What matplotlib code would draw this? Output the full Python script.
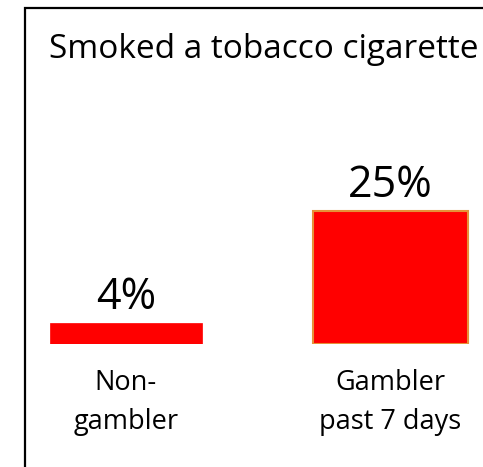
import matplotlib
matplotlib.use("Agg")
import matplotlib.pyplot as plt
from matplotlib.patches import Rectangle

# data
categories = ["Non-\ngambler", "Gambler\npast 7 days"]
values = [4, 25]
value_labels = ["4%", "25%"]
title = "Smoked a tobacco cigarette"

W, H = 483, 467
fig = plt.figure(figsize=(W / 100, H / 100), dpi=100)
plt.rcParams['font.family'] = ['Open Sans', 'DejaVu Sans']

# axes placed so that bar baseline sits at y=344px from top
ax = fig.add_axes([20.2 / W, 123 / H, 476 / W, 213 / H])
ax.set_xlim(-0.4, 1.4)
ax.set_ylim(0, 40)
ax.axis('off')

x = [0, 1]
ax.bar(x[0], values[0], width=0.575, color='#ff0000', edgecolor='#ff0000', linewidth=0.5)
ax.bar(x[1], values[1], width=0.586, color='#ff0000', edgecolor='#e69138', linewidth=1.5)

for xi, v, lab in zip(x, values, value_labels):
    ax.annotate(lab, xy=(xi, v), xytext=(0, 10), textcoords='offset points',
                ha='center', va='baseline', fontsize=31, color='black')

# multi-line baseline alignment refers to the last line
for xi, cat in zip(x, categories):
    ax.annotate(cat, xy=(xi, 0), xytext=(0, -61), textcoords='offset points',
                ha='center', va='baseline', fontsize=19.5, color='black',
                linespacing=1.5)

fig.text(264 / W, 1 - 58 / H, title, ha='center', va='baseline', fontsize=24,
         color='black')

# frame: left and top edges only visible
frame = Rectangle((25 / W, -0.1), 1.2, 1 - 8 / H + 0.1, transform=fig.transFigure,
                  fill=False, edgecolor='black', linewidth=1.6)
fig.add_artist(frame)

fig.savefig("out.png", dpi=100)
